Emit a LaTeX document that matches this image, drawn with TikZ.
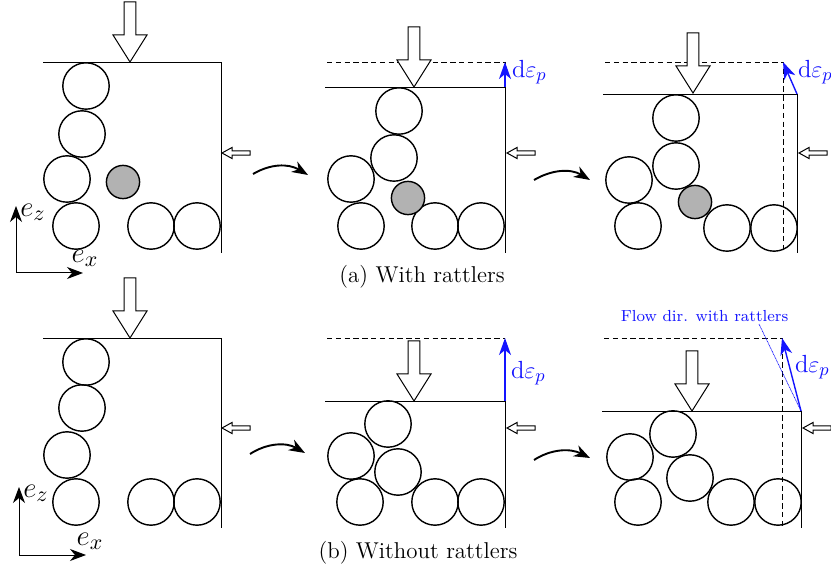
\documentclass[tikz,border=0pt]{standalone}
\usetikzlibrary{arrows.meta,calc}
\definecolor{flowblue}{RGB}{20,20,255}
\tikzset{
  x=0.5pt,y=-0.5pt,
  every node/.style={inner sep=0pt,outer sep=0pt,font=\fontsize{11.45}{13}\selectfont},
  grain/.style={circle,draw,line width=0.7pt,minimum size=23.2pt,fill=none},
  rattler/.style={circle,draw,line width=0.7pt,minimum size=16.6pt,fill=black!30},
  wall/.style={line width=0.45pt},
  oldwall/.style={line width=0.45pt,dash pattern=on 2.7pt off 1.7pt},
  flow/.style={flowblue,line width=0.7pt,-{Stealth[length=8.5pt,width=6pt,inset=2.5pt]}},
  flowlabel/.style={text=flowblue,anchor=west,font=\fontsize{12.4}{14}\selectfont},
  axis/.style={line width=0.5pt,-{Stealth[length=8pt,width=6pt,inset=2.5pt]}},
  step arrow/.style={line width=0.95pt,-{Stealth[length=8pt,width=6pt,inset=2.5pt]}},
  axislabel/.style={font=\fontsize{15}{17}\selectfont},
  caption/.style={anchor=center},
  pics/bigarrow/.style={code={\draw[line width=0.5pt,fill=white] (0,0)--(-17,-27)--(-5.8,-27)--(-5.8,-60)--(5.8,-60)--(5.8,-27)--(17,-27)--cycle;}},
  pics/smallarrow/.style={code={\draw[line width=0.5pt,fill=white] (0,0)--(10,-5.5)--(10,-2.2)--(28,-2.2)--(28,2.2)--(10,2.2)--(10,5.5)--cycle;}},
}
\begin{document}
\begin{tikzpicture}
\useasboundingbox (0,0) rectangle (831,572);

% --- panel a1
\coordinate (a1tl) at (43,62); \coordinate (a1tr) at (221,62); \coordinate (a1br) at (221,253);
\draw[wall] (a1tl)--(a1tr)--(a1br);
\pic at (130,62) {bigarrow};
\pic at (222,153) {smallarrow};
\node[grain] (a1c1) at (86,86) {};
\node[grain] (a1c2) at (82,134) {};
\node[grain] (a1c3) at (67,179) {};
\node[grain] (a1c4) at (76,226) {};
\node[grain] (a1c5) at (151,226) {};
\node[grain] (a1c6) at (197,226) {};
\node[rattler] (a1r) at (123,182) {};
\coordinate (a1o) at (16,273); \coordinate (a1z) at (16,206); \coordinate (a1x) at (83,273);
\draw[axis] (a1o)--(a1z);
\draw[axis] (a1o)--(a1x);
\node[axislabel] (a1ez) at (33,212) {$e_z$};
\node[axislabel] (a1ex) at (85,258) {$e_x$};
\coordinate (a1s) at (253,174); \coordinate (a1e) at (308,175);
\draw[step arrow] (a1s) .. controls (270,164) and (288,163) .. (a1e);

% --- panel a2
\coordinate (a2dl) at (327,62); \coordinate (a2dr) at (505,62);
\coordinate (a2tl) at (325,87); \coordinate (a2tr) at (505,87); \coordinate (a2br) at (505,253);
\draw[oldwall] (a2dl)--(a2dr);
\draw[oldwall] (a2dr)--(a2br);
\draw[wall] (a2tl)--(a2tr)--(a2br);
\pic at (414,87) {bigarrow};
\pic at (507,153) {smallarrow};
\draw[flow] (a2tr)--(a2dr);
\node[flowlabel] (a2l) at (512,72) {d$\varepsilon_p$};
\node[grain] (a2c1) at (399,111) {};
\node[grain] (a2c2) at (394,158) {};
\node[grain] (a2c3) at (351,179) {};
\node[grain] (a2c4) at (361,226) {};
\node[grain] (a2c5) at (435,226) {};
\node[grain] (a2c6) at (481,226) {};
\node[rattler] (a2r) at (408,198) {};
\coordinate (a2s) at (534,180); \coordinate (a2e) at (590,180);
\draw[step arrow] (a2s) .. controls (551,170) and (570,168) .. (a2e);

% --- panel a3
\coordinate (a3dl) at (605,62); \coordinate (a3dr) at (783,62); \coordinate (a3db) at (783,253);
\coordinate (a3tl) at (603,94); \coordinate (a3tr) at (797,94); \coordinate (a3br) at (797,253);
\draw[oldwall] (a3dl)--(a3dr)--(a3db);
\draw[wall] (a3tl)--(a3tr)--(a3br);
\pic at (693,93) {bigarrow};
\pic at (799,153) {smallarrow};
\draw[flow] (a3tr)--(a3dr);
\node[flowlabel] (a3l) at (798,72) {d$\varepsilon_p$};
\node[grain] (a3c1) at (676,118) {};
\node[grain] (a3c2) at (676,166) {};
\node[grain] (a3c3) at (629,180) {};
\node[grain] (a3c4) at (638,226) {};
\node[grain] (a3c5) at (727,228) {};
\node[grain] (a3c6) at (774,228) {};
\node[rattler] (a3r) at (695,202) {};

\node[caption] (capa) at (422,277) {(a) With rattlers};

% --- panel b1
\coordinate (b1tl) at (43,338); \coordinate (b1tr) at (221,338); \coordinate (b1br) at (221,528);
\draw[wall] (b1tl)--(b1tr)--(b1br);
\pic at (130,338) {bigarrow};
\pic at (222,428) {smallarrow};
\node[grain] (b1c1) at (86,362) {};
\node[grain] (b1c2) at (82,408) {};
\node[grain] (b1c3) at (67,455) {};
\node[grain] (b1c4) at (76,502) {};
\node[grain] (b1c5) at (151,502) {};
\node[grain] (b1c6) at (197,502) {};
\coordinate (b1o) at (19,555); \coordinate (b1z) at (19,487); \coordinate (b1x) at (86,555);
\draw[axis] (b1o)--(b1z);
\draw[axis] (b1o)--(b1x);
\node[axislabel] (b1ez) at (36,493) {$e_z$};
\node[axislabel] (b1ex) at (90,541) {$e_x$};
\coordinate (b1s) at (250,454); \coordinate (b1e) at (305,453);
\draw[step arrow] (b1s) .. controls (267,443) and (286,442) .. (b1e);

% --- panel b2
\coordinate (b2dl) at (327,338); \coordinate (b2dr) at (505,338);
\coordinate (b2tl) at (325,401); \coordinate (b2tr) at (505,401); \coordinate (b2br) at (505,528);
\draw[oldwall] (b2dl)--(b2dr);
\draw[oldwall] (b2tr)--(b2br);
\draw[wall] (b2tl)--(b2tr)--(b2br);
\pic at (414,401) {bigarrow};
\pic at (507,428) {smallarrow};
\draw[flow] (b2tr)--(b2dr);
\node[flowlabel] (b2l) at (511,373) {d$\varepsilon_p$};
\node[grain] (b2c1) at (388,424) {};
\node[grain] (b2c2) at (351,456) {};
\node[grain] (b2c3) at (398,472) {};
\node[grain] (b2c4) at (360,502) {};
\node[grain] (b2c5) at (435,502) {};
\node[grain] (b2c6) at (481,502) {};
\coordinate (b2s) at (534,460); \coordinate (b2e) at (590,458);
\draw[step arrow] (b2s) .. controls (551,449) and (570,448) .. (b2e);

% --- panel b3
\coordinate (b3dl) at (604,338); \coordinate (b3dr) at (782,338); \coordinate (b3db) at (782,528);
\coordinate (b3tl) at (602,411); \coordinate (b3tr) at (801,411); \coordinate (b3br) at (801,528);
\draw[oldwall] (b3dl)--(b3dr)--(b3db);
\draw[wall] (b3tl)--(b3tr)--(b3br);
\pic at (692,411) {bigarrow};
\pic at (803,428) {smallarrow};
\draw[flow] (b3tr)--(b3dr);
\node[text=flowblue,font=\fontsize{8}{10}\selectfont] (b3f) at (704.5,316) {Flow dir. with rattlers};
\coordinate (b3fe) at (759,324);
\draw[flowblue,line width=0.35pt,dash pattern=on 0.5pt off 0.3pt] (b3tr)--(b3fe);
\node[flowlabel] (b3l) at (795,367) {d$\varepsilon_p$};
\node[grain] (b3c1) at (630,457) {};
\node[grain] (b3c2) at (673,434) {};
\node[grain] (b3c3) at (690,478) {};
\node[grain] (b3c4) at (638,502) {};
\node[grain] (b3c5) at (731,502) {};
\node[grain] (b3c6) at (778,502) {};

\node[caption] (capb) at (418,553) {(b) Without rattlers};
\end{tikzpicture}
\end{document}
